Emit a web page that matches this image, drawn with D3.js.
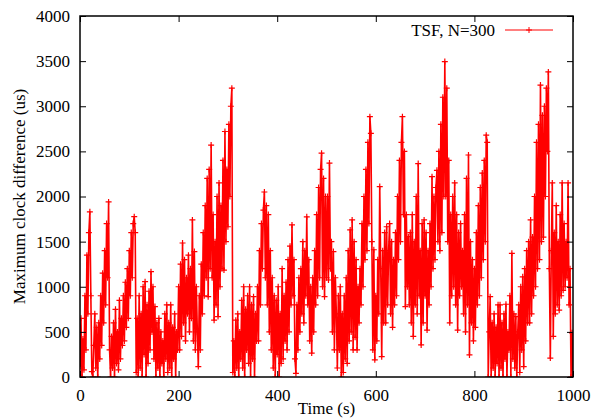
<!DOCTYPE html>
<html><head><meta charset="utf-8">
<script src="https://cdn.jsdelivr.net/npm/d3@7"></script>
<style>body{margin:0;background:#fff}svg{display:block}</style></head>
<body>
<svg id="c" width="603" height="419"></svg>
<script>
// ---- data ----
const sampleStep = 2; // seconds between samples, first sample at t = 0
const clockDiff = [
 120,650,0,420,80, 900,300,1350,700,1600, 1830,900,60,0,350, 700,100,550,0,600, 200,900,350,1150,600,
 1400,800,1700,1100,1940, 300,0,450,100,600, 0,750,150,500,80, 850,200,650,350,900, 400,1050,550,1200,650,
 1400,900,1600,1100,1700, 1776,1600,50,650,0, 900,100,700,0,1000, 250,1056,0,800,150, 950,300,1167,500,1000,
 200,780,0,600,100, 650,0,500,150,400, 0,700,200,800,50, 600,100,800,0,550, 200,700,0,500,300,
 1000,300,1250,450,1485, 600,1300,400,1100,700, 1350,500,1200,650,1740, 400,1390,300,1000,500, 115,900,300,1250,700,
 1600,900,1900,1100,2200, 890,2300,1200,2570,1100, 1800,630,1500,800,2000, 670,2150,1000,1900,1200, 2400,1185,2720,1500,2300,
 1665,2800,2000,3000,3200, 50,400,0,630,100, 700,0,500,200,850, 100,1000,0,750,300, 900,150,1000,0,800,
 200,890,0,700,400, 1000,400,1400,800,1700, 1200,1850,2050,1100,1900, 800,1800,500,1400,300, 1100,100,900,0,850,
 250,1000,0,700,150, 1200,200,900,400,1050, 300,1300,500,1450,800, 1685,900,1300,200,40, 800,300,1100,500,1200,
 700,1500,600,1400,900, 1775,800,1300,400,1000, 265,1100,500,1400,800, 1800,900,2100,1100,2300, 2480,1000,2200,890,2000,
 1100,2000,1075,2370,1200, 1500,500,1390,300,1100, 700,100,900,300,1000, 0,700,50,900,200, 1100,150,1400,400,1630,
 500,1740,300,1500,440, 1300,300,1000,600,1200, 800,1700,1000,2000,1300, 2300,1400,2600,1700,2885, 2700,1500,300,1410,190,
 900,400,1300,700,2110, 1200,225,1400,600,1600, 600,1665,800,1400,1700, 700,1500,550,1300,800, 1600,900,2000,1300,2400,
 1500,2600,2885,1800,2500, 780,1800,1000,1555,800, 1600,600,1800,450,1500, 800,2000,700,2365,900, 1400,355,1700,600,1740,
 900,1600,520,1400,800, 1700,1000,2220,1200,2000, 1300,2100,2290,1500,2500, 1400,2800,1600,3100,2000, 3495,2000,3200,1500,2400,
 600,1800,900,2000,1000, 2150,800,1800,520,1600, 900,1700,1000,1400,700, 1800,500,2200,800,2460, 245,1500,600,1300,400,
 1200,550,1600,800,1900, 900,2100,1100,2260,1300, 2400,1500,2680,2600,0, 500,890,0,600,100, 700,0,550,150,800,
 0,800,100,600,0, 700,200,806,0,500, 300,900,0,1370,200, 700,100,670,0,500, 800,50,1000,300,1110,
 115,1200,400,1400,600, 1500,600,1740,700,1550, 900,2000,1000,2600,1200, 2800,1300,3235,1500,2900, 1550,3000,2000,3200,2500,
 3380,1200,210,1400,2150, 450,1600,700,1900,800, 1500,740,1800,900,2150, 960,1700,1000,1500,1100, 2150,800,1200,0,490,
 0
];
const xTicks = [0, 200, 400, 600, 800, 1000];
const yTicks = [0, 500, 1000, 1500, 2000, 2500, 3000, 3500, 4000];
const seriesName = "TSF, N=300";
const xTitle = "Time (s)";
const yTitle = "Maximum clock difference (us)";

// ---- drawing ----
const font = "'Liberation Serif','Times New Roman',serif";
const red = "#ff0000";
const svg = d3.select("#c");
const L = 80, R = 573, T = 16, B = 377;
const x = d3.scaleLinear().domain([0, 1000]).range([L, R]);
const y = d3.scaleLinear().domain([0, 4000]).range([B, T]);
const data = clockDiff.map((v, i) => ({t: i * sampleStep, v}));

svg.append("defs").append("clipPath").attr("id", "clip")
  .append("rect").attr("x", L).attr("y", T).attr("width", R - L).attr("height", B - T);

const plot = svg.append("g").attr("clip-path", "url(#clip)");
plot.append("path").datum(data)
  .attr("fill", "none").attr("stroke", red).attr("stroke-width", 1.6).attr("stroke-linejoin", "round")
  .attr("d", d3.line().x(d => x(d.t)).y(d => y(d.v)));
const plus = "M-3,0H3M0,-3V3";
plot.selectAll("path.pt").data(data).join("path").attr("class", "pt")
  .attr("transform", d => `translate(${x(d.t)},${y(d.v)})`)
  .attr("d", plus).attr("stroke", red).attr("stroke-width", 1.2).attr("fill", "none");

function styleAxis(g) {
  g.select(".domain").remove();
  g.selectAll(".tick line").attr("stroke", "#000").attr("stroke-width", 1);
  g.selectAll("text").attr("font-family", font).attr("font-size", 17).attr("fill", "#000");
}
svg.append("g").attr("transform", `translate(0,${B})`)
  .call(d3.axisBottom(x).tickValues(xTicks).tickFormat(d3.format("d")).tickSizeInner(-6).tickSizeOuter(0).tickPadding(12))
  .call(styleAxis);
svg.append("g").attr("transform", `translate(${L},0)`)
  .call(d3.axisLeft(y).tickValues(yTicks).tickFormat(d3.format("d")).tickSizeInner(-6).tickSizeOuter(0).tickPadding(10))
  .call(styleAxis);
svg.append("g").attr("transform", `translate(0,${T})`)
  .call(d3.axisTop(x).tickValues(xTicks).tickFormat("").tickSizeInner(-6).tickSizeOuter(0))
  .call(styleAxis);
svg.append("g").attr("transform", `translate(${R},0)`)
  .call(d3.axisRight(y).tickValues(yTicks).tickFormat("").tickSizeInner(-6).tickSizeOuter(0))
  .call(styleAxis);

svg.append("rect").attr("x", L).attr("y", T).attr("width", R - L).attr("height", B - T)
  .attr("fill", "none").attr("stroke", "#000").attr("stroke-width", 1.5);

svg.append("text").attr("x", (L + R) / 2).attr("y", 414).attr("text-anchor", "middle")
  .attr("font-family", font).attr("font-size", 17).text(xTitle);
svg.append("text").attr("transform", `translate(25,${(T + B) / 2}) rotate(-90)`).attr("text-anchor", "middle")
  .attr("font-family", font).attr("font-size", 17).text(yTitle);

// legend
const ly = 30;
svg.append("text").attr("x", 495).attr("y", ly).attr("dy", "0.35em").attr("text-anchor", "end")
  .attr("font-family", font).attr("font-size", 17).text(seriesName);
svg.append("line").attr("x1", 505).attr("x2", 553).attr("y1", ly).attr("y2", ly)
  .attr("stroke", red).attr("stroke-width", 1);
svg.append("path").attr("transform", `translate(529,${ly})`).attr("d", plus)
  .attr("stroke", red).attr("stroke-width", 1).attr("fill", "none");
</script>
</body></html>
